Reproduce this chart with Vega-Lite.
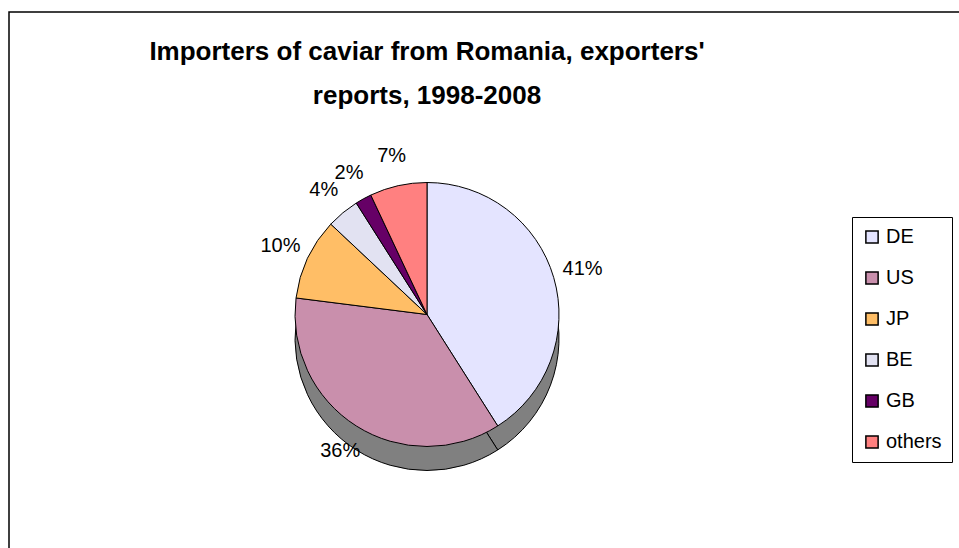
{
  "$schema": "https://vega.github.io/schema/vega-lite/v6.json",
  "width": 960,
  "height": 545,
  "autosize": "none",
  "padding": {"left": 9, "top": 12, "right": 0, "bottom": 0},
  "background": "white",
  "view": {"stroke": "black", "strokeWidth": 1.5, "fill": "white"},
  "config": {
    "font": "Liberation Sans",
    "text": {"font": "Liberation Sans"}
  },
  "title": {
    "text": ["Importers of caviar from Romania, exporters'", "reports, 1998-2008"],
    "orient": "top",
    "anchor": "middle",
    "frame": "group",
    "baseline": "top",
    "offset": 0,
    "dy": 97,
    "dx": -62,
    "fontSize": 26,
    "fontWeight": "bold",
    "font": "Liberation Sans",
    "color": "black",
    "lineHeight": 44
  },
  "data": {
    "values": [
      {"country": "DE", "share": 41, "rank": 1, "label": "41%"},
      {"country": "US", "share": 36, "rank": 2, "label": "36%"},
      {"country": "JP", "share": 10, "rank": 3, "label": "10%"},
      {"country": "BE", "share": 4, "rank": 4, "label": "4%"},
      {"country": "GB", "share": 2, "rank": 5, "label": "2%"},
      {"country": "others", "share": 7, "rank": 6, "label": "7%"}
    ]
  },
  "layer": [
    {
      "mark": {"type": "arc", "outerRadius": 132, "xOffset": -62, "yOffset": 54, "fill": "#808080", "stroke": "black", "strokeWidth": 1},
      "encoding": {
        "theta": {"field": "share", "type": "quantitative", "stack": true},
        "order": {"field": "rank", "type": "quantitative"}
      }
    },
    {
      "mark": {"type": "arc", "outerRadius": 132, "xOffset": -62, "yOffset": 30, "stroke": "black", "strokeWidth": 1},
      "encoding": {
        "theta": {"field": "share", "type": "quantitative", "stack": true},
        "order": {"field": "rank", "type": "quantitative"},
        "color": {
          "field": "country",
          "type": "nominal",
          "scale": {
            "domain": ["DE", "US", "JP", "BE", "GB", "others"],
            "range": ["#E4E4FF", "#C98FAC", "#FFBE66", "#E2E2F2", "#660066", "#FF8080"]
          },
          "legend": {
            "title": null,
            "orient": "none",
            "legendX": 843,
            "legendY": 205,
            "strokeColor": "black",
            "padding": 10,
            "symbolType": "square",
            "symbolSize": 150,
            "symbolStrokeColor": "black",
            "symbolStrokeWidth": 1.5,
            "labelFontSize": 20,
            "labelFont": "Liberation Sans",
            "labelColor": "black",
            "labelOffset": 4,
            "rowPadding": 21
          }
        }
      }
    },
    {
      "mark": {"type": "text", "radius": 162, "xOffset": -62, "yOffset": 30, "fontSize": 20, "color": "black"},
      "encoding": {
        "theta": {"field": "share", "type": "quantitative", "stack": true},
        "order": {"field": "rank", "type": "quantitative"},
        "text": {"field": "label", "type": "nominal"}
      }
    }
  ]
}
